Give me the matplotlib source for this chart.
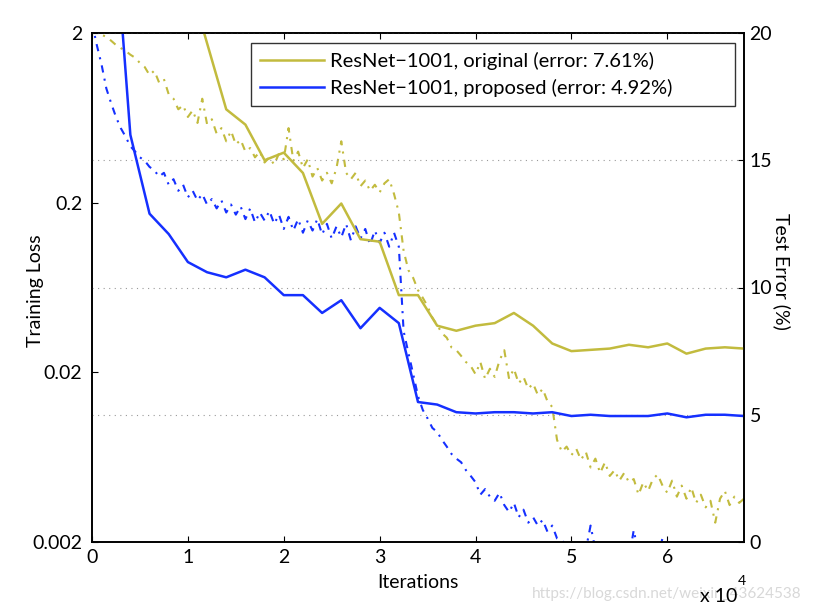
import numpy as np
import matplotlib
matplotlib.use("Agg")
import matplotlib.pyplot as plt

plt.rcParams['font.family'] = ['Lato', 'DejaVu Sans']

# iterations for training loss (every 500) and test error (every 2000)
iters_loss = np.arange(0, 68001, 500)
iters_err = np.arange(0, 68001, 2000)

# training loss
loss_orig = [2.15, 2.03, 1.95, 1.90, 1.80, 1.70, 1.63, 1.57, 1.49, 1.43,
             1.33, 1.26, 1.13, 1.20, 1.02, 1.07, 0.87, 0.82, 0.71, 0.75,
             0.64, 0.70, 0.59, 0.82, 0.58, 0.62, 0.51, 0.55, 0.46, 0.53,
             0.44, 0.47, 0.40, 0.42, 0.37, 0.40, 0.345, 0.37, 0.335, 0.39,
             0.36, 0.55, 0.353, 0.40, 0.32, 0.36, 0.285, 0.32, 0.27, 0.30,
             0.26, 0.32, 0.46, 0.30, 0.275, 0.30, 0.25, 0.27, 0.235, 0.255,
             0.23, 0.26, 0.275, 0.225, 0.175, 0.104, 0.080, 0.072, 0.061, 0.055,
             0.049, 0.042, 0.038, 0.034, 0.032, 0.028, 0.027, 0.025, 0.023, 0.0218,
             0.0195, 0.023, 0.0183, 0.021, 0.0188, 0.0235, 0.027, 0.0183, 0.021, 0.0172,
             0.0188, 0.0160, 0.0172, 0.0147, 0.0160, 0.0135, 0.0125, 0.0080, 0.0068, 0.0073,
             0.0065, 0.0071, 0.0061, 0.0068, 0.0055, 0.0062, 0.0051, 0.0059, 0.0049, 0.0053,
             0.0046, 0.0051, 0.0045, 0.0047, 0.0038, 0.0045, 0.0040, 0.0047, 0.0050, 0.0043,
             0.0039, 0.0046, 0.0037, 0.0043, 0.0036, 0.0042, 0.0034, 0.0038, 0.0032, 0.0035,
             0.0026, 0.0036, 0.0040, 0.0033, 0.0037, 0.0034, 0.0036]

loss_prop = [2.3, 1.70, 1.30, 0.94, 0.77, 0.64, 0.55, 0.49, 0.43, 0.40,
             0.37, 0.353, 0.325, 0.31, 0.285, 0.30, 0.255, 0.275, 0.235, 0.255,
             0.215, 0.235, 0.206, 0.225, 0.195, 0.21, 0.185, 0.206, 0.175, 0.195,
             0.17, 0.19, 0.16, 0.185, 0.153, 0.175, 0.157, 0.179, 0.15, 0.17,
             0.14, 0.165, 0.137, 0.16, 0.133, 0.157, 0.137, 0.16, 0.13, 0.15,
             0.123, 0.145, 0.125, 0.15, 0.12, 0.145, 0.123, 0.14, 0.113, 0.137,
             0.116, 0.133, 0.11, 0.133, 0.11, 0.035, 0.026, 0.0195, 0.0145, 0.012,
             0.0107, 0.0094, 0.0089, 0.0080, 0.0073, 0.0066, 0.0062, 0.0059, 0.0053, 0.0049,
             0.0045, 0.0038, 0.0041, 0.0037, 0.0035, 0.0039, 0.0033, 0.0030, 0.0034, 0.0028,
             0.0031, 0.0026, 0.0028, 0.0025, 0.0027, 0.0023, 0.0025, 0.0021, 0.00205, 0.0019,
             0.0018, 0.0019, 0.0017, 0.0018, 0.0025, 0.0018, 0.0016, 0.0019, 0.0017, 0.00195,
             0.0016, 0.0018, 0.0016, 0.00235, 0.0017, 0.0016, 0.0018, 0.0016, 0.0017, 0.0021,
             0.0016, 0.0018, 0.0017, 0.0019, 0.0016, 0.0017, 0.00198, 0.0016, 0.0018, 0.0017,
             0.0016, 0.0019, 0.0017, 0.0016, 0.0018, 0.0017, 0.0016]

# test error (%)
err_orig = [60, 50, 40, 32, 25, 22.2, 19.6, 17.0, 16.4, 15.0,
            15.3, 14.5, 12.5, 13.3, 11.9, 11.8, 9.7, 9.7, 8.5, 8.3,
            8.5, 8.6, 9.0, 8.5, 7.8, 7.5, 7.55, 7.6, 7.75, 7.65,
            7.8, 7.4, 7.6, 7.65, 7.6]
err_prop = [40, 26, 16.0, 12.9, 12.1, 11.0, 10.6, 10.4, 10.7, 10.4,
            9.7, 9.7, 9.0, 9.5, 8.4, 9.2, 8.6, 5.5, 5.4, 5.1,
            5.05, 5.1, 5.1, 5.05, 5.1, 4.95, 5.0, 4.95, 4.95, 4.95,
            5.05, 4.9, 5.0, 5.0, 4.95]

labels = ['ResNet\u22121001, original (error: 7.61%)',
          'ResNet\u22121001, proposed (error: 4.92%)']
c_orig = '#c2bb3e'
c_prop = '#1530ff'
fs = 14

fig = plt.figure(figsize=(8.14, 6.12), dpi=100)
ax = fig.add_axes([92/814, 1-542/612, (744-92)/814, (542-33)/612])
ax2 = ax.twinx()

# training loss (left, log)
ax.plot(iters_loss, loss_orig, color=c_orig, lw=1.5, ls=(0, (3.5, 3, 1, 3)))
ax.plot(iters_loss, loss_prop, color=c_prop, lw=1.5, ls=(0, (3.5, 3, 1, 3)))
ax.set_yscale('log')
ax.set_ylim(0.002, 2)
ax.set_yticks([0.002, 0.02, 0.2, 2])
ax.set_yticklabels(['0.002', '0.02', '0.2', '2'])
ax.minorticks_off()
ax.set_xlim(0, 68000)
ax.set_xticks(np.arange(0, 60001, 10000))
ax.set_xticklabels(['0', '1', '2', '3', '4', '5', '6'])
ax.tick_params(direction='in', length=4.5, labelsize=fs, top=True, pad=5)
ax.tick_params(axis='y', pad=7)
ax.set_ylabel('Training Loss', fontsize=fs)
ax.yaxis.set_label_coords(-0.087, 0.493)
ax.yaxis.label.set_va('center')
ax.set_xlabel('Iterations', fontsize=fs)
ax.xaxis.set_label_coords(0.5, -0.08)
ax.xaxis.label.set_va('center')

# test error (right)
ax2.plot(iters_err, err_orig, color=c_orig, lw=1.8, label=labels[0])
ax2.plot(iters_err, err_prop, color=c_prop, lw=1.8, label=labels[1])
ax2.set_ylim(0, 20)
ax2.set_yticks([0, 5, 10, 15, 20])
ax2.tick_params(direction='in', length=4.5, labelsize=fs, pad=4)
ax2.set_ylabel('Test Error (%)', fontsize=fs, rotation=270)
ax2.yaxis.set_label_coords(1.058, 0.532)
ax2.yaxis.label.set_va('center')
ax2.yaxis.grid(True, ls=(0, (1, 4)), color='#999999', lw=0.8)

for a in (ax, ax2):
    for s in a.spines.values():
        s.set_linewidth(1.2)

# legend box stretched like the original (extra room on the right)
leg = ax2.legend(loc='upper left', bbox_to_anchor=(0.244, 0.0, 0.742, 0.980),
                 mode='expand', borderaxespad=0, fontsize=14.5, frameon=True,
                 fancybox=False, edgecolor='black', handlelength=3.15,
                 borderpad=0.45, labelspacing=0.45, handletextpad=0.3)
leg.get_frame().set_linewidth(1.0)

fig.text(0.985, 0.03, 'https://blog.csdn.net/weixin_43624538', ha='right', va='center',
         fontsize=11, color='#d8d8d8', zorder=0)
fig.text(700/814, 1-596/612, 'x 10', ha='left', va='center', fontsize=fs)
fig.text(738/814, 1-581/612, '4', ha='left', va='center', fontsize=10)

fig.savefig('out.png', dpi=100)
